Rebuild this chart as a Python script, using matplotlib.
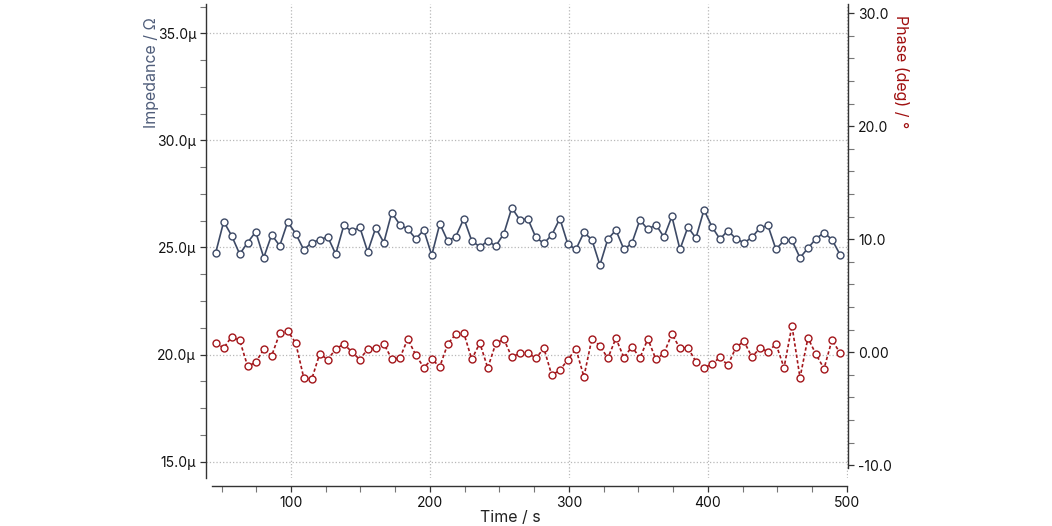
import matplotlib
matplotlib.use('Agg')
import matplotlib.pyplot as plt
from matplotlib.ticker import MultipleLocator, AutoMinorLocator, FuncFormatter

plt.rcParams['font.family'] = ['Inter', 'DejaVu Sans']

# data
time_s = [45.8, 51.6, 57.3, 63.1, 68.8, 74.6, 80.4, 86.1, 91.9, 97.6,
          103.4, 109.2, 114.9, 120.7, 126.4, 132.2, 138.0, 143.7, 149.5, 155.2,
          161.0, 166.8, 172.5, 178.3, 184.0, 189.8, 195.6, 201.3, 207.1, 212.8,
          218.6, 224.4, 230.1, 235.9, 241.6, 247.4, 253.2, 258.9, 264.7, 270.4,
          276.2, 282.0, 287.7, 293.5, 299.2, 305.0, 310.8, 316.5, 322.3, 328.0,
          333.8, 339.6, 345.3, 351.1, 356.8, 362.6, 368.4, 374.1, 379.9, 385.6,
          391.4, 397.2, 402.9, 408.7, 414.4, 420.2, 426.0, 431.7, 437.5, 443.2,
          449.0, 454.8, 460.5, 466.3, 472.0, 477.8, 483.6, 489.3, 495.1]

impedance_u = [24.75, 26.21, 25.55, 24.69, 25.23, 25.73, 24.53, 25.59, 25.08, 26.19,
               25.65, 24.89, 25.23, 25.36, 25.50, 24.69, 26.03, 25.75, 25.95, 24.80,
               25.92, 25.23, 26.62, 26.07, 25.86, 25.41, 25.81, 24.64, 26.11, 25.30,
               25.51, 26.35, 25.31, 25.03, 25.30, 25.07, 25.65, 26.85, 26.29, 26.34,
               25.47, 25.19, 25.59, 26.35, 25.16, 24.91, 25.70, 25.37, 24.18, 25.39,
               25.81, 24.91, 25.20, 26.29, 25.84, 26.07, 25.48, 26.45, 24.91, 25.95,
               25.44, 26.76, 25.97, 25.39, 25.79, 25.41, 25.22, 25.47, 25.92, 26.03,
               24.91, 25.33, 25.33, 24.52, 24.97, 25.41, 25.69, 25.37, 24.67]

phase_deg = [0.85, 0.38, 1.38, 1.06, -1.24, -0.89, 0.27, -0.30, 1.68, 1.91,
             0.82, -2.27, -2.39, -0.12, -0.65, 0.29, 0.73, 0.05, -0.65, 0.29,
             0.35, 0.76, -0.59, -0.53, 1.18, -0.24, -1.36, -0.62, -1.27, 0.73,
             1.62, 1.68, -0.62, 0.82, -1.39, 0.80, 1.15, -0.42, -0.09, -0.06,
             -0.53, 0.35, -2.04, -1.57, -0.68, 0.32, -2.16, 1.18, 0.58, -0.53,
             1.24, -0.48, 0.50, -0.50, 1.18, -0.62, -0.09, 1.62, 0.35, 0.41,
             -0.83, -1.36, -1.06, -0.44, -1.15, 0.44, 0.97, -0.42, 0.38, 0.05,
             0.73, -1.36, 2.35, -2.25, 1.27, -0.18, -1.45, 1.09, -0.06]

imp_color = '#3d4a66'
phase_color = '#a3161b'
grid_color = '#b8b8b8'

fig = plt.figure(figsize=(10.52, 5.26), dpi=100)
ax = fig.add_axes([0.1955, 0.0913, 0.6108, 0.9011])
ax2 = ax.twinx()

ax.plot(time_s, impedance_u, color=imp_color, lw=1.2, marker='o', ms=5,
        mfc='white', mec=imp_color, mew=1.0, zorder=3)
ax2.plot(time_s, phase_deg, color=phase_color, lw=1.2, ls=(0, (2.0, 1.4)),
         marker='o', ms=5, mfc='white', mec=phase_color, mew=1.0, zorder=3)

ax.set_xlim(38.6, 501)
ax.set_ylim(14.239, 36.368)
ax2.set_ylim(-11.124, 30.823)

ax.xaxis.set_major_locator(MultipleLocator(100))
ax.xaxis.set_minor_locator(MultipleLocator(25))
ax.yaxis.set_major_locator(MultipleLocator(5))
ax.yaxis.set_minor_locator(AutoMinorLocator(4))
ax2.yaxis.set_major_locator(MultipleLocator(10))
ax2.yaxis.set_minor_locator(AutoMinorLocator(5))

ax.yaxis.set_major_formatter(FuncFormatter(lambda v, p: '%.1fµ' % v))
ax2.yaxis.set_major_formatter(FuncFormatter(lambda v, p: '0.00' if abs(v) < 1e-9 else '%.1f' % v))

ax.grid(True, which='major', linestyle=':', color=grid_color, lw=0.9)
ax.set_axisbelow(True)

for a in (ax, ax2):
    a.spines['top'].set_visible(False)
    a.tick_params(which='major', length=4, width=0.9, pad=3, labelsize=10,
                  colors='#333333', labelcolor='#111111')
    a.tick_params(which='minor', length=4, width=0.8, colors='#777777')
ax.spines['right'].set_visible(False)
ax2.spines['left'].set_visible(False)
ax2.spines['bottom'].set_visible(False)
ax.spines['bottom'].set_position(('outward', 5.8))
ax.spines['bottom'].set_bounds(43, 500)
ax2.spines['right'].set_bounds(-10.27, 30.823)
for s in (ax.spines['left'], ax.spines['bottom'], ax2.spines['right']):
    s.set_color('#333333')
    s.set_linewidth(1.0)

fig.text(152 / 1052, 1 - 73 / 526, 'Impedance / Ω', rotation=90, ha='center', va='center',
         fontsize=11.5, color='#4f5d7a')
fig.text(901 / 1052, 1 - 72 / 526, 'Phase (deg) / °', rotation=270, ha='center', va='center',
         fontsize=11.5, color='#a01010')
fig.text(510 / 1052, 1 - 517 / 526, 'Time / s', ha='center', va='center',
         fontsize=11.5, color='#222222')

fig.savefig('out.png', dpi=100)
